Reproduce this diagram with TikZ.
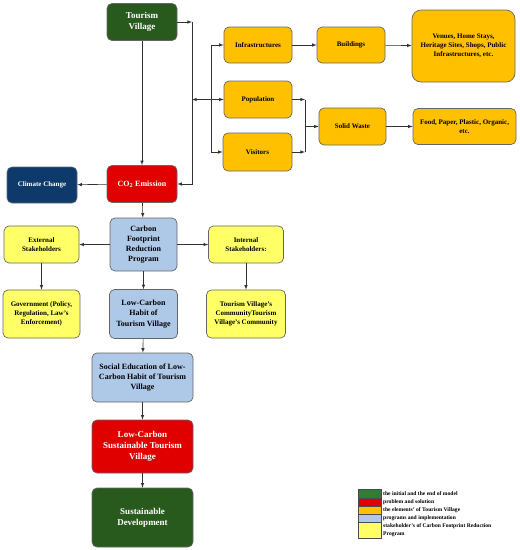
\documentclass[tikz,border=0pt]{standalone}
\usepackage{fontspec}
\setmainfont{Liberation Serif}
\usetikzlibrary{}
\definecolor{dgreen}{HTML}{285A1E}
\definecolor{dred}{HTML}{E00000}
\definecolor{navy}{HTML}{0E3A6B}
\definecolor{gold}{HTML}{FFC000}
\definecolor{lblue}{HTML}{AEC8E8}
\definecolor{lyellow}{HTML}{FFFF66}
\definecolor{lgreen}{HTML}{2F7D32}
\begin{document}
\begin{tikzpicture}[x=1pt,y=-1pt,>=latex,
  box/.style={draw=black!60,line width=0.7pt,rounded corners=5pt,align=center,inner sep=1pt},
  big/.style={font=\bfseries\fontsize{9}{11.3}\selectfont},
  mid/.style={font=\bfseries\fontsize{8}{10.2}\selectfont},
  small/.style={font=\bfseries\fontsize{7}{8.8}\selectfont},
  tiny/.style={font=\bfseries\fontsize{5.6}{8}\selectfont,anchor=west,inner sep=0pt},
  link/.style={->,draw=black!80,line width=0.6pt}]
  \useasboundingbox (0,0) rectangle (520,550);
  \node[box,big,fill=dgreen,text=white,minimum width=70,minimum height=37] (tv) at (142,22) {Tourism\\Village};
  \node[box,mid,fill=dred,text=white,minimum width=70,minimum height=37] (co2) at (142,184) {CO\textsubscript{2} Emission};
  \node[box,small,fill=navy,text=white,minimum width=70,minimum height=36] (cc) at (42,185) {Climate Change};
  \node[box,small,fill=gold,minimum width=68,minimum height=36] (inf) at (258,45) {Infrastructures};
  \node[box,small,fill=gold,minimum width=68,minimum height=36] (bld) at (351,45) {Buildings};
  \node[box,small,fill=gold,minimum width=103,minimum height=72,rounded corners=9pt] (ven) at (463.5,46) {Venues, Home Stays,\\Heritage Sites, Shops, Public\\Infrastructures, etc.};
  \node[box,small,fill=gold,minimum width=68,minimum height=37] (pop) at (258,99.5) {Population};
  \node[box,small,fill=gold,minimum width=69,minimum height=38] (vis) at (257.5,152) {Visitors};
  \node[box,small,fill=gold,minimum width=67,minimum height=37] (sw) at (352.5,126.5) {Solid Waste};
  \node[box,small,fill=gold,minimum width=103,minimum height=36] (food) at (464.5,126.5) {Food, Paper, Plastic, Organic,\\etc.};
  \node[box,mid,fill=lblue,minimum width=67,minimum height=53] (cfrp) at (143.5,244.5) {Carbon\\Footprint\\Reduction\\Program};
  \node[box,small,fill=lyellow,minimum width=75,minimum height=37] (ext) at (41.5,244.5) {External\\Stakeholders};
  \node[box,small,fill=lyellow,minimum width=75,minimum height=37] (int) at (246,244.5) {Internal\\Stakeholders:};
  \node[box,small,fill=lyellow,minimum width=77,minimum height=48] (gov) at (41.5,314) {Government (Policy,\\Regulation, Law's\\Enforcement)};
  \node[box,mid,fill=lblue,minimum width=68,minimum height=49] (habit) at (143.5,314) {Low-Carbon\\Habit of\\Tourism Village};
  \node[box,small,fill=lyellow,minimum width=79,minimum height=48] (comm) at (246,314) {Tourism Village's\\CommunityTourism\\Village's Community};
  \node[box,mid,fill=lblue,minimum width=101,minimum height=49] (soc) at (142.5,377.5) {Social Education of Low-\\Carbon Habit of Tourism\\Village};
  \node[box,big,fill=dred,text=white,minimum width=101,minimum height=53] (lcst) at (142.5,446.5) {Low-Carbon\\Sustainable Tourism\\Village};
  \node[box,big,fill=dgreen,text=white,minimum width=101,minimum height=59] (sd) at (142.5,517.5) {Sustainable\\Development};
  \coordinate (j1) at (192,22);
  \coordinate (j2) at (211,99.5);
  \coordinate (j3) at (192,99.5);
  \coordinate (j4) at (305,126.5);
  \draw[link] (tv.east) -- (j1);
  \draw[link] (j1) |- (co2.east);
  \draw[link] (tv) -- (co2);
  \draw[link] (co2) -- (cc);
  \draw[link] (j2) -- (j3);
  \draw[link] (j2) |- (inf.west);
  \draw[link] (j2) -- (pop.west);
  \draw[link] (j2) |- (vis.west);
  \draw[link] (inf) -- (bld);
  \draw[link] (bld) -- (ven);
  \draw[link] (pop.east) -- (pop.east -| j4);
  \draw[link] (vis.east) -- (vis.east -| j4);
  \draw[draw=black!80,line width=0.6pt] (pop.east -| j4) -- (vis.east -| j4);
  \draw[link] (j4) -- (sw);
  \draw[link] (sw) -- (food);
  \draw[link] (co2) -- (cfrp);
  \draw[link] (cfrp) -- (ext);
  \draw[link] (cfrp) -- (int);
  \draw[link] (ext) -- (gov);
  \draw[link] (int) -- (comm);
  \draw[link] (cfrp) -- (habit);
  \draw[link] (habit) -- (soc);
  \draw[link] (soc) -- (lcst);
  \draw[link] (lcst) -- (sd);
  \draw[black!70,fill=lgreen] (358,489) rectangle (381,498);
  \draw[black!70,fill=dred] (358,498) rectangle (381,506);
  \draw[black!70,fill=gold] (358,506) rectangle (381,514);
  \draw[black!70,fill=lblue] (358,514) rectangle (381,522);
  \draw[black!70,fill=lyellow] (358,522) rectangle (381,538);
  \node[tiny] (leg1) at (383,493.5) {the initial and the end of model};
  \node[tiny] (leg2) at (383,502) {problem and solution};
  \node[tiny] (leg3) at (383,510) {the elements' of Tourism Village};
  \node[tiny] (leg4) at (383,518) {programs and implementation};
  \node[tiny] (leg5) at (383,526) {stakeholder's of Carbon Footprint Reduction};
  \node[tiny] (leg6) at (383,534) {Program};
\end{tikzpicture}
\end{document}
